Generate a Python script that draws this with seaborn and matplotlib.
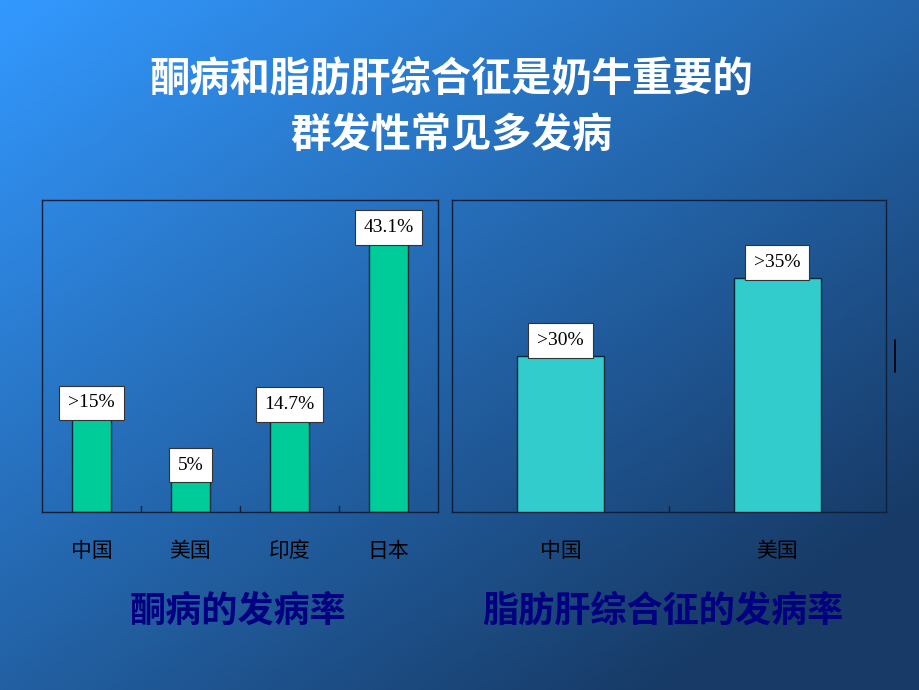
import numpy as np
import matplotlib
matplotlib.use("Agg")
import matplotlib.pyplot as plt
import seaborn as sns
import pandas as pd

sns.set_style("white")
plt.rcParams['font.family'] = ['Noto Sans CJK SC', 'DejaVu Sans']

left_cats = ["中国", "美国", "印度", "日本"]
left_vals = [15, 5, 14.7, 43.1]
left_labels = [">15%", "5%", "14.7%", "43.1%"]
right_cats = ["中国", "美国"]
right_vals = [30, 35]
right_labels = [">30%", ">35%"]

W, H = 920, 690
fig = plt.figure(figsize=(9.2, 6.9), dpi=100)
bg = fig.add_axes([0, 0, 1, 1])
yy, xx = np.mgrid[0:1:200j, 0:1:200j]
t = np.clip(0.55 * xx + 0.6 * yy, 0, 1)
c0 = np.array([0x33, 0x99, 0xff]) / 255
c1 = np.array([0x17, 0x3a, 0x66]) / 255
img = c0[None, None, :] * (1 - t[..., None]) + c1[None, None, :] * t[..., None]
bg.imshow(img, aspect='auto', extent=[0, 1, 0, 1], origin='upper')
bg.set_axis_off()
bg.plot([895 / W, 895 / W], [1 - 340 / H, 1 - 372 / H], color='black', lw=1.2)

def ax_at(x0, y0, x1, y1):
    return fig.add_axes([x0 / W, 1 - y1 / H, (x1 - x0) / W, (y1 - y0) / H])

def panel(ax, cats, vals, labels, color, width, ylim, fs):
    df = pd.DataFrame({"c": cats, "v": vals})
    sns.barplot(data=df, x="c", y="v", ax=ax, color=color, width=width,
                edgecolor='#0a2a3a', linewidth=1, saturation=1)
    ax.set_facecolor('none')
    ax.set_ylim(*ylim)
    ax.set_xlim(-0.5, len(cats) - 0.5)
    ax.set_yticks([])
    ax.set_xlabel(""); ax.set_ylabel("")
    for s in ax.spines.values():
        s.set_color('#0d1f3a'); s.set_linewidth(1)
    ax.set_xticks(range(len(cats)))
    ax.set_xticklabels(cats, fontsize=15, color='black')
    ax.tick_params(axis='x', length=0, pad=20)
    for b in np.arange(0.5, len(cats) - 0.5, 1):
        ax.plot([b, b], [ylim[0], ylim[0] + (ylim[1] - ylim[0]) * 0.02],
                color='#0d1f3a', lw=1, clip_on=False)
    for i, (v, l) in enumerate(zip(vals, labels)):
        ax.text(i, v + (ylim[1] - ylim[0]) * 0.05, l, ha='center', va='center',
                fontsize=fs, family=['Liberation Serif'], color='black',
                bbox=dict(boxstyle='square,pad=0.45', fc='white', ec='#333333', lw=0.8))

axl = ax_at(42, 200, 438, 512)
panel(axl, left_cats, left_vals, left_labels, '#00cc99', 0.39, (0, 50), 14)
axr = ax_at(452, 200, 886, 512)
panel(axr, right_cats, right_vals, right_labels, '#33cccc', 0.4, (20, 40), 14)

fig.text(0.49, 1 - 80 / H, "酮病和脂肪肝综合征是奶牛重要的", ha='center', va='center',
         fontsize=29, color='white', fontweight='bold')
fig.text(0.49, 1 - 135 / H, "群发性常见多发病", ha='center', va='center',
         fontsize=29, color='white', fontweight='bold')
fig.text(238 / W, 1 - 611 / H, "酮病的发病率", ha='center', va='center',
         fontsize=26, color='#000080', fontweight='bold')
fig.text(663 / W, 1 - 611 / H, "脂肪肝综合征的发病率", ha='center', va='center',
         fontsize=26, color='#000080', fontweight='bold')

fig.savefig("out.png", dpi=100)
